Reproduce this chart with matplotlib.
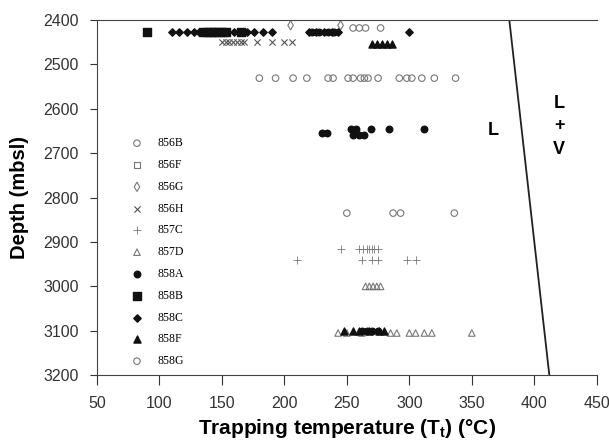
import matplotlib
matplotlib.use("Agg")
import matplotlib.pyplot as plt

plt.rcParams["font.family"] = ["Liberation Sans", "DejaVu Sans"]
plt.rcParams["mathtext.fontset"] = "custom"
plt.rcParams["mathtext.rm"] = "Liberation Sans"
plt.rcParams["mathtext.bf"] = "Liberation Sans:bold"

# trapping temperatures (deg C) and depths (mbsl) per hole
t_856B = [255, 260, 265, 277, 250, 287, 293, 336]
d_856B = [2418, 2418, 2418, 2418, 2835, 2835, 2835, 2835]
t_856F = [143, 148]
d_856F = [2425, 2425]
t_856G = [205, 245]
d_856G = [2412, 2412]
t_856H = [150, 153, 156, 159, 162, 165, 168, 178, 190, 200, 206]
d_856H = [2449] * 11
t_857C = [245, 260, 263, 266, 268, 270, 272, 275, 210, 262, 270, 275, 298, 305]
d_857C = [2915] * 8 + [2941] * 6
t_857D = [265, 268, 271, 274, 277, 243, 250, 262, 285, 290, 300, 305, 312, 318, 350]
d_857D = [3000] * 5 + [3105] * 10
t_858A = [222, 228, 235, 240, 230, 234, 253, 257, 255, 260, 264, 269, 284, 312,
          262, 266, 270, 275]
d_858A = [2427] * 4 + [2655, 2655, 2645, 2645, 2660, 2660, 2660, 2645, 2645, 2645,
                       3100, 3100, 3100, 3100]
t_858B = [90, 135, 138, 141, 144, 147, 150, 153, 165]
d_858B = [2427] * 9
t_858C = [110, 116, 122, 128, 132, 160, 170, 176, 183, 190, 220, 225, 232, 238, 243, 300]
d_858C = [2427] * 16
t_858F = [270, 274, 278, 282, 286, 248, 255, 260, 268, 276, 280]
d_858F = [2453] * 5 + [3100] * 6
t_858G = [180, 193, 207, 218, 235, 239, 251, 255, 261, 264, 267, 275, 292, 298,
          302, 310, 320, 337]
d_858G = [2531] * 18

# liquid / liquid+vapour boundary
bound_t = [380, 412]
bound_d = [2400, 3200]

fig = plt.figure(figsize=(6.09, 4.44), dpi=100)
ax = fig.add_axes([0.159, 0.155, 0.821, 0.800])

hollow = dict(facecolors="none", edgecolors="#777777", linewidths=0.8)
ax.scatter(t_856B, d_856B, marker="o", s=22, label="856B", **hollow)
ax.scatter(t_856F, d_856F, marker="s", s=22, label="856F", **hollow)
ax.scatter(t_856G, d_856G, marker="d", s=22, label="856G", **hollow)
ax.scatter(t_856H, d_856H, marker="x", s=20, c="#555555", linewidths=0.8, label="856H")
ax.scatter(t_857C, d_857C, marker="+", s=30, c="#777777", linewidths=0.6, label="857C")
ax.scatter(t_857D, d_857D, marker="^", s=22, label="857D", **hollow)
ax.scatter(t_858A, d_858A, marker="o", s=22, c="#111111", label="858A")
ax.scatter(t_858B, d_858B, marker="s", s=28, c="#111111", label="858B")
ax.scatter(t_858C, d_858C, marker="D", s=14, c="#111111", label="858C")
ax.scatter(t_858F, d_858F, marker="^", s=26, c="#111111", label="858F")
ax.scatter(t_858G, d_858G, marker="o", s=22, label="858G", **hollow)

ax.plot(bound_t, bound_d, color="#222222", lw=1.3)
ax.text(367, 2648, "L", fontsize=13, fontweight="bold", ha="center", va="center")
ax.text(420, 2587, "L", fontsize=13, fontweight="bold", ha="center", va="center")
ax.text(420, 2638, "+", fontsize=13, fontweight="bold", ha="center", va="center")
ax.text(420, 2692, "V", fontsize=13, fontweight="bold", ha="center", va="center")

ax.set_xlim(50, 450)
ax.set_ylim(3200, 2400)
ax.set_xticks(range(50, 451, 50))
ax.set_yticks(range(2400, 3201, 100))
ax.tick_params(direction="out", length=5, labelsize=11.5, colors="#333333")
ax.tick_params(axis="x", length=7, pad=8)
ax.tick_params(axis="y", pad=8)
ax.spines["right"].set_visible(False)
for s in ["left", "bottom", "top"]:
    ax.spines[s].set_color("#444444")
ax.set_xlabel("Trapping temperature (T$_\\mathbf{t}$) (°C)", fontsize=15,
              fontweight="bold", labelpad=4)
ax.set_ylabel("Depth (mbsl)", fontsize=14.5, fontweight="bold", labelpad=10)

ax.legend(loc="upper left", bbox_to_anchor=(0.059, 0.683), frameon=False,
          prop={"family": "Liberation Serif", "size": 8.5}, labelspacing=0.83,
          handlelength=1.0, handletextpad=1.28, borderaxespad=0)

fig.savefig("out.png", dpi=100)
